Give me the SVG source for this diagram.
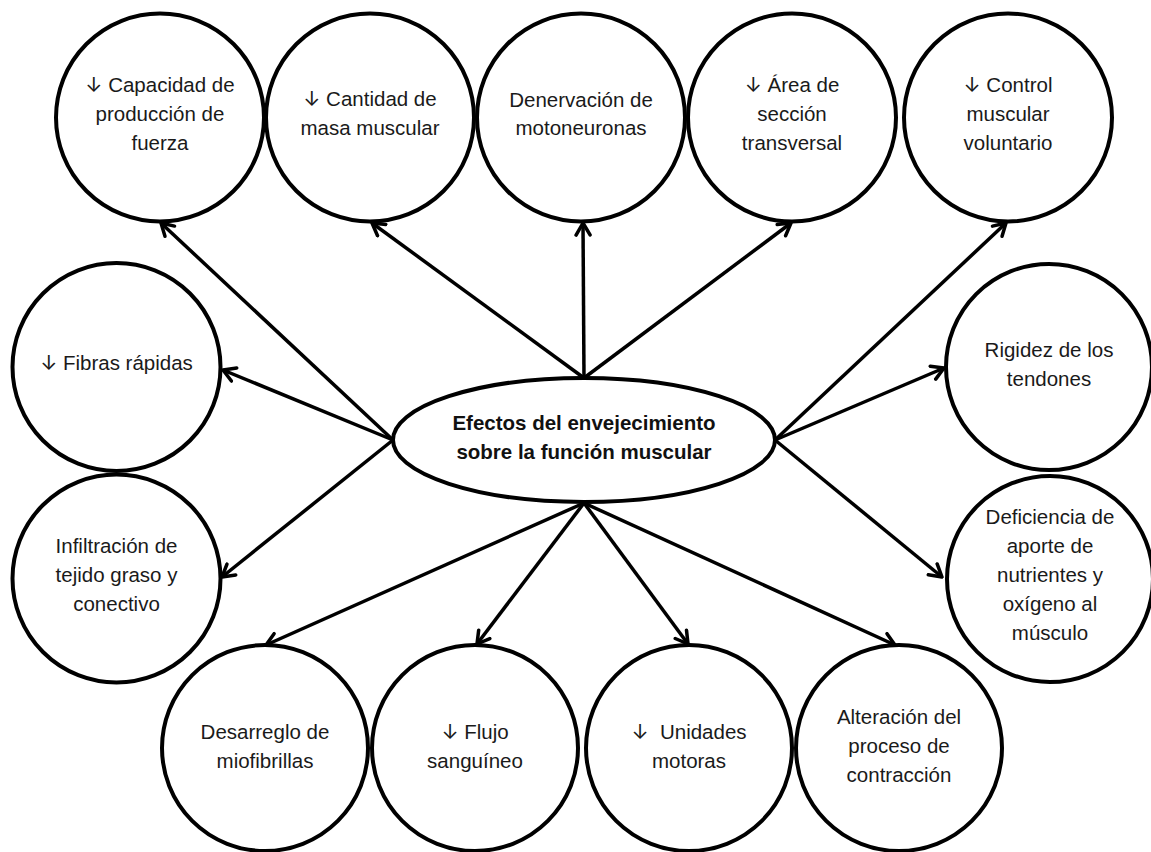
<svg xmlns="http://www.w3.org/2000/svg" width="1151" height="852" viewBox="0 0 1151 852">
<defs>
<style>
.node{fill:#fff;stroke:#000;stroke-width:4}
.t{font-family:"Liberation Sans",Arial,sans-serif;font-size:20.5px;fill:#1a1a1a;text-anchor:middle}
.b{font-weight:bold;fill:#111}
.a{font-family:Inter,"DejaVu Sans",sans-serif;fill:#1a1a1a}
.c line{stroke:#000;stroke-width:3.5;marker-end:url(#ah)}
</style>
<marker id="ah" viewBox="0 0 16 18" refX="14" refY="9" markerWidth="16" markerHeight="18" markerUnits="userSpaceOnUse" orient="auto">
<path d="M2,2 L14,9 L2,16" fill="none" stroke="#000" stroke-width="3.5" stroke-linecap="round" stroke-linejoin="round"/>
</marker>
</defs>
<rect width="1151" height="852" fill="#fff"/>
<g id="connectors" class="c">
<line x1="393" y1="440" x2="161" y2="223"/>
<line x1="584" y1="378" x2="372" y2="223"/>
<line x1="584" y1="378" x2="583" y2="223"/>
<line x1="584" y1="378" x2="791" y2="223"/>
<line x1="775" y1="440" x2="1006" y2="223"/>
<line x1="393" y1="440" x2="223" y2="370"/>
<line x1="393" y1="440" x2="222" y2="577"/>
<line x1="775" y1="440" x2="944" y2="368"/>
<line x1="775" y1="440" x2="942" y2="577"/>
<line x1="584" y1="503" x2="266" y2="645"/>
<line x1="584" y1="503" x2="477" y2="644"/>
<line x1="584" y1="503" x2="688" y2="644"/>
<line x1="584" y1="503" x2="895" y2="645"/>
</g>
<g id="center">
<ellipse class="node" cx="584" cy="440" rx="191" ry="62"/>
<text class="t b" x="584" y="430">Efectos del envejecimiento</text>
<text class="t b" x="584" y="459">sobre la función muscular</text>
</g>
<g id="n-capacidad">
<circle class="node" cx="160" cy="117.5" r="104"/>
<text class="t" x="160" y="91.5"><tspan class="a">↓</tspan> Capacidad de</text>
<text class="t" x="160" y="120.5">producción de</text>
<text class="t" x="160" y="149.5">fuerza</text>
</g>
<g id="n-cantidad">
<circle class="node" cx="370" cy="117.5" r="104"/>
<text class="t" x="370" y="106"><tspan class="a">↓</tspan> Cantidad de</text>
<text class="t" x="370" y="134.5">masa muscular</text>
</g>
<g id="n-denervacion">
<circle class="node" cx="581" cy="117.5" r="104"/>
<text class="t" x="581" y="106.5">Denervación de</text>
<text class="t" x="581" y="134.5">motoneuronas</text>
</g>
<g id="n-area">
<circle class="node" cx="792" cy="117.5" r="104"/>
<text class="t" x="792" y="91.5"><tspan class="a">↓</tspan> Área de</text>
<text class="t" x="792" y="120.5">sección</text>
<text class="t" x="792" y="149.5">transversal</text>
</g>
<g id="n-control">
<circle class="node" cx="1008" cy="117.5" r="104"/>
<text class="t" x="1008" y="91.5"><tspan class="a">↓</tspan> Control</text>
<text class="t" x="1008" y="120.5">muscular</text>
<text class="t" x="1008" y="149.5">voluntario</text>
</g>
<g id="n-fibras">
<circle class="node" cx="116.5" cy="367" r="104"/>
<text class="t" x="116.5" y="370"><tspan class="a">↓</tspan> Fibras rápidas</text>
</g>
<g id="n-infiltracion">
<circle class="node" cx="116.5" cy="578.5" r="104"/>
<text class="t" x="116.5" y="552.5">Infiltración de</text>
<text class="t" x="116.5" y="581.5">tejido graso y</text>
<text class="t" x="116.5" y="610.5">conectivo</text>
</g>
<g id="n-rigidez">
<circle class="node" cx="1049" cy="367" r="103"/>
<text class="t" x="1049" y="357">Rigidez de los</text>
<text class="t" x="1049" y="385.5">tendones</text>
</g>
<g id="n-deficiencia">
<circle class="node" cx="1050" cy="579" r="103"/>
<text class="t" x="1050" y="523.5">Deficiencia de</text>
<text class="t" x="1050" y="552.5">aporte de</text>
<text class="t" x="1050" y="581.5">nutrientes y</text>
<text class="t" x="1050" y="610.5">oxígeno al</text>
<text class="t" x="1050" y="639.5">músculo</text>
</g>
<g id="n-desarreglo">
<circle class="node" cx="265" cy="748" r="103"/>
<text class="t" x="265" y="739">Desarreglo de</text>
<text class="t" x="265" y="768">miofibrillas</text>
</g>
<g id="n-flujo">
<circle class="node" cx="475" cy="748" r="103"/>
<text class="t" x="475" y="739"><tspan class="a">↓</tspan> Flujo</text>
<text class="t" x="475" y="768">sanguíneo</text>
</g>
<g id="n-unidades">
<circle class="node" cx="689" cy="748" r="103"/>
<text class="t" x="689" y="739" xml:space="preserve"><tspan class="a">↓</tspan>  Unidades</text>
<text class="t" x="689" y="768">motoras</text>
</g>
<g id="n-alteracion">
<circle class="node" cx="899" cy="748" r="103"/>
<text class="t" x="899" y="724">Alteración del</text>
<text class="t" x="899" y="753">proceso de</text>
<text class="t" x="899" y="782">contracción</text>
</g>
</svg>
